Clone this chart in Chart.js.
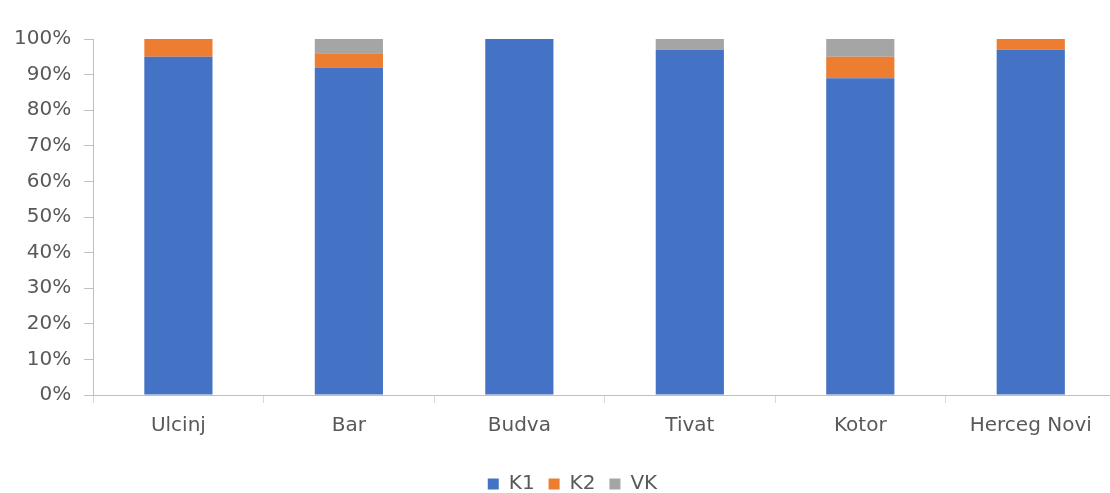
<!DOCTYPE html>
<html>
<head>
<meta charset="utf-8">
<script src="https://cdn.jsdelivr.net/npm/chart.js@4/dist/chart.umd.min.js"></script>
<style>
  html, body { margin: 0; padding: 0; background: #fff; overflow: hidden; }
  #wrap { width: 1116px; height: 493px; }
</style>
</head>
<body>
<div id="wrap"><canvas id="myChart"></canvas></div>
<script>
const cities = ["Ulcinj", "Bar", "Budva", "Tivat", "Kotor", "Herceg Novi"];
const k1 = [95, 92, 100, 97, 89, 97];
const k2 = [5, 4, 0, 0, 6, 3];
const vk = [0, 4, 0, 3, 5, 0];
const yTicks = [0, 10, 20, 30, 40, 50, 60, 70, 80, 90, 100];

Chart.defaults.font.family = "'DejaVu Sans', sans-serif";
Chart.defaults.font.size = 20;
Chart.defaults.color = "#595959";

// legend in the original sits a bit right of centre
const shiftLegend = {
  id: "shiftLegend",
  afterLayout(chart) {
    if (chart.legend) {
      chart.legend.left += 14;
      chart.legend.right += 14;
    }
  },
};

var ctx = document.getElementById("myChart").getContext("2d");
var myChart = new Chart(ctx, {
  type: "bar",
  data: {
    labels: cities,
    datasets: [
      { label: "K1", data: k1, backgroundColor: "#4472c4" },
      { label: "K2", data: k2, backgroundColor: "#ed7d31" },
      { label: "VK", data: vk, backgroundColor: "#a5a5a5" },
    ],
  },
  options: {
    responsive: true,
    maintainAspectRatio: false,
    animation: false,
    datasets: { bar: { barPercentage: 0.4, categoryPercentage: 1.0 } },
    layout: { padding: { top: 39, left: 1, right: 0, bottom: -11 } },
    plugins: {
      legend: {
        position: "bottom",
        labels: { boxWidth: 11, boxHeight: 11, padding: 14, color: "#595959" },
      },
      tooltip: { enabled: false },
    },
    scales: {
      x: {
        stacked: true,
        offset: true,
        grid: { display: true, drawOnChartArea: false, offset: true, tickLength: 8, color: "#d9d9d9" },
        border: { display: true, color: "#bfbfbf" },
        ticks: { padding: 11 },
        afterFit: (s) => { s.height += 11; },
      },
      y: {
        stacked: true,
        min: 0,
        max: 100,
        afterBuildTicks: (axis) => { axis.ticks = yTicks.map((v) => ({ value: v })); },
        grid: { display: true, drawOnChartArea: false, tickLength: 9, color: "#bfbfbf" },
        border: { display: true, color: "#bfbfbf" },
        ticks: { padding: 13, callback: (v) => v + "%" },
      },
    },
  },
  plugins: [shiftLegend],
});
</script>
</body>
</html>
